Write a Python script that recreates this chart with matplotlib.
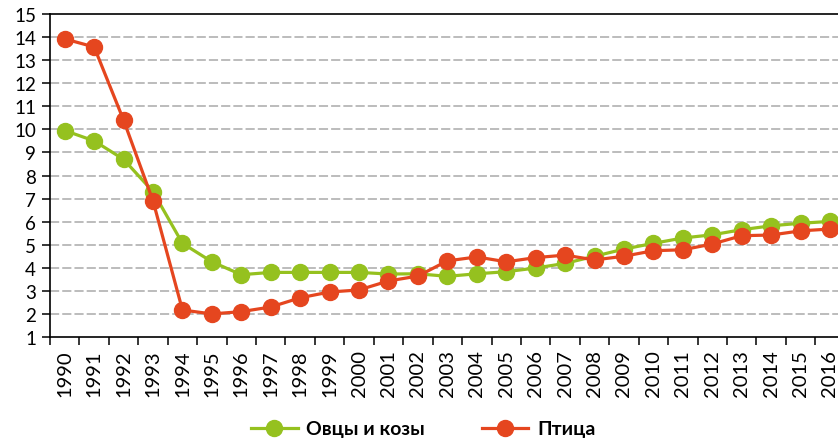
import numpy as np
import matplotlib
matplotlib.use("Agg")
import matplotlib.pyplot as plt

years = [str(y) for y in range(1990, 2017)]
sheep_goats = [9.95, 9.5, 8.7, 7.3, 5.06, 4.26, 3.7, 3.8, 3.8, 3.8, 3.8, 3.73, 3.74,
               3.63, 3.74, 3.83, 3.99, 4.19, 4.5, 4.81, 5.06, 5.29, 5.43, 5.65, 5.82, 5.93, 6.01]
poultry = [13.92, 13.57, 10.4, 6.9, 2.17, 2.0, 2.1, 2.3, 2.7, 2.95, 3.04, 3.43, 3.64,
           4.3, 4.47, 4.26, 4.44, 4.55, 4.34, 4.5, 4.74, 4.78, 5.03, 5.39, 5.42, 5.6, 5.68]
labels = ["Овцы и козы", "Птица"]

green = "#95c11f"
red = "#e5461f"

plt.rcParams['font.family'] = ['Lato', 'DejaVu Sans']

W, H = 838, 439
fig = plt.figure(figsize=(W / 100, H / 100), dpi=100)
ax = fig.add_axes([50 / W, (H - 338) / H, 794.7 / W, 323 / H])

x = np.arange(len(years))
ax.plot(x, sheep_goats, color=green, lw=2.3, marker='o', ms=11.5, label=labels[0], zorder=3)
ax.plot(x, poultry, color=red, lw=2.3, marker='o', ms=11.5, label=labels[1], zorder=4)

ax.set_xlim(-0.5, len(years) - 0.5)
ax.set_ylim(1, 15)
ax.set_yticks(range(1, 16))
ax.set_xticks(np.arange(len(years) + 1) - 0.5, minor=False)
ax.set_xticklabels([])
ax.set_xticks(x, minor=True)
ax.set_xticklabels(years, minor=True, rotation=90, fontsize=14.5)
ax.tick_params(axis='x', which='minor', length=0, pad=9)
ax.tick_params(axis='x', which='major', length=6, width=1.1, direction='out')
ax.tick_params(axis='y', length=6, width=1.1, labelsize=13.5, pad=4)

for v in range(2, 15):
    ax.axhline(v, color='#aaaaaa', lw=1.1, ls=(0, (6, 2)), zorder=1)

for s in ['left', 'bottom', 'top']:
    ax.spines[s].set_linewidth(1.2)
    ax.spines[s].set_color('black')
ax.spines['right'].set_visible(False)

fig.legend(loc='center', bbox_to_anchor=(0.505, 9 / H), ncol=2, frameon=False,
           prop={'weight': 'bold', 'size': 14}, handlelength=2.4,
           columnspacing=2.9, handletextpad=0.45)

fig.savefig("out.png", dpi=100)
